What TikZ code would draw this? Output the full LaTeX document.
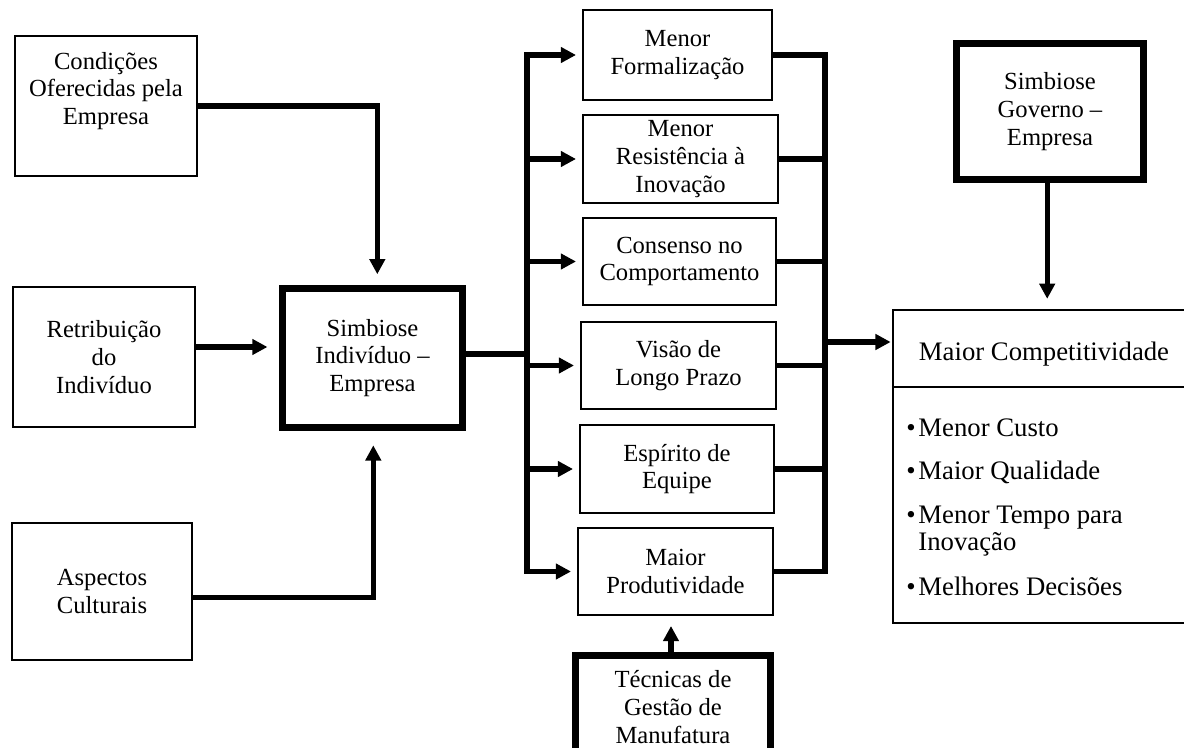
\documentclass[tikz,border=0pt]{standalone}
\usepackage{fontspec}
\setmainfont{Liberation Serif}
\usetikzlibrary{arrows.meta,calc}
\newcommand{\bul}{\textbullet\hspace{2pt}}
\begin{document}
\begin{tikzpicture}[x=0.025cm,y=-0.025cm,
  tbox/.style={draw, line width=1.4pt, align=center, inner sep=0pt,
    font=\fontsize{17.5}{19.8}\selectfont},
  kbox/.style={draw, line width=5pt, align=center, inner sep=0pt,
    font=\fontsize{17.5}{19.8}\selectfont},
  ltxt/.style={align=center, inner sep=0pt, font=\fontsize{17.5}{19.8}\selectfont},
  conn/.style={line width=3.6pt, line join=miter},
  bus/.style={conn, line cap=rect},
  arr/.style={conn, -{Triangle[length=0.38cm,width=0.38cm]}},
  big/.style={inner sep=0pt, font=\fontsize{19}{20}\selectfont}]
\useasboundingbox (0,0) rectangle (1184,748);
% left column
\node[tbox, minimum width=4.55cm, minimum height=3.5cm] (cond) at (106,106) {};
\node[ltxt] (condt) at (106,91) {Condições\\Oferecidas pela\\Empresa};
\node[tbox, minimum width=4.55cm, minimum height=3.5cm] (retr) at (104,357) {Retribuição\\do\\Indivíduo};
\node[tbox, minimum width=4.5cm, minimum height=3.425cm] (asp) at (102,591.5) {Aspectos\\Culturais};
% centre
\node[kbox, minimum width=4.475cm, minimum height=3.45cm] (sind) at (372.5,358) {Simbiose\\Indivíduo –\\Empresa};
% middle column
\node[tbox, minimum width=4.725cm, minimum height=2.25cm] (f1) at (677.5,55) {Menor\\Formalização};
\node[tbox, minimum width=4.875cm, minimum height=2.2cm] (f2) at (680.5,159) {Menor\\Resistência à\\Inovação};
\node[tbox, minimum width=4.825cm, minimum height=2.175cm] (f3) at (679.5,261.5) {Consenso no\\Comportamento};
\node[tbox, minimum width=4.875cm, minimum height=2.175cm] (f4) at (678.5,365.5) {Visão de\\Longo Prazo};
\node[tbox, minimum width=4.85cm, minimum height=2.2cm] (f5) at (677,469) {Espírito de\\Equipe};
\node[tbox, minimum width=4.875cm, minimum height=2.175cm] (f6) at (675.5,571.5) {Maior\\Produtividade};
\node[kbox, minimum width=4.85cm, minimum height=2.575cm] (tec) at (673,707) {Técnicas de\\Gestão de\\Manufatura};
% right
\node[kbox, minimum width=4.675cm, minimum height=3.4cm] (sgov) at (1050,111.5) {Simbiose\\Governo –\\Empresa};
\node[draw, line width=1.6pt, minimum width=7.575cm, minimum height=7.825cm, inner sep=0pt] (comp) at (1044.5,466.5) {};
\coordinate (dv) at (0,387);
\draw[line width=1.6pt] (dv -| comp.west) -- (dv -| comp.east);
\node[big, anchor=base] (ttl) at (1044,360) {Maior Competitividade};
\node[big, anchor=base west] (b1) at (906,436) {\bul Menor Custo};
\node[big, anchor=base west] (b2) at (906,479) {\bul Maior Qualidade};
\node[big, anchor=base west] (b3) at (906,523) {\bul Menor Tempo para};
\node[big, anchor=base west] (b4) at (906,550) {\hphantom{\bul}Inovação};
\node[big, anchor=base west] (b5) at (906,595) {\bul Melhores Decisões};
% connectors left
\draw[arr, shorten >=0.28cm] (cond.east) -| ([xshift=0.12cm]sind.north);
\draw[arr, shorten >=0.3cm] ([yshift=0.25cm]retr.east) -- ([yshift=0.25cm]retr.east -| sind.west);
\draw[arr, shorten >=0.37cm] ([yshift=-0.16cm]asp.east) -| ([xshift=0.02cm]sind.south);
% fan out
\coordinate (bl) at (527,0);
\coordinate (br) at (825,0);
\draw[conn] ([yshift=0.1cm]sind.east) -- ([yshift=0.1cm]sind.east -| bl);
\draw[bus] (f1.west -| bl) -- (f6.west -| bl);
\foreach \n in {f1,f2,f3,f4,f5,f6}{
  \draw[arr, shorten >=0.15cm] (\n.west -| bl) -- (\n.west);
}
\draw[conn] (f1.east) -- (f1.east -| br) -- (f6.east -| br) -- (f6.east);
\foreach \n in {f2,f3,f4,f5}{
  \draw[conn] (\n.east) -- (\n.east -| br);
}
\coordinate (ct) at (0,342);
\draw[arr, shorten >=0.03cm] (ct -| br) -- (ct -| comp.west);
\draw[arr, shorten >=0.25cm] ([xshift=-0.07cm]sgov.south) -- ([xshift=-0.07cm]sgov.south |- comp.north);
\draw[arr, shorten >=0.25cm] ([xshift=-0.05cm]tec.north) -- ([xshift=-0.05cm]tec.north |- f6.south);
\end{tikzpicture}
\end{document}
